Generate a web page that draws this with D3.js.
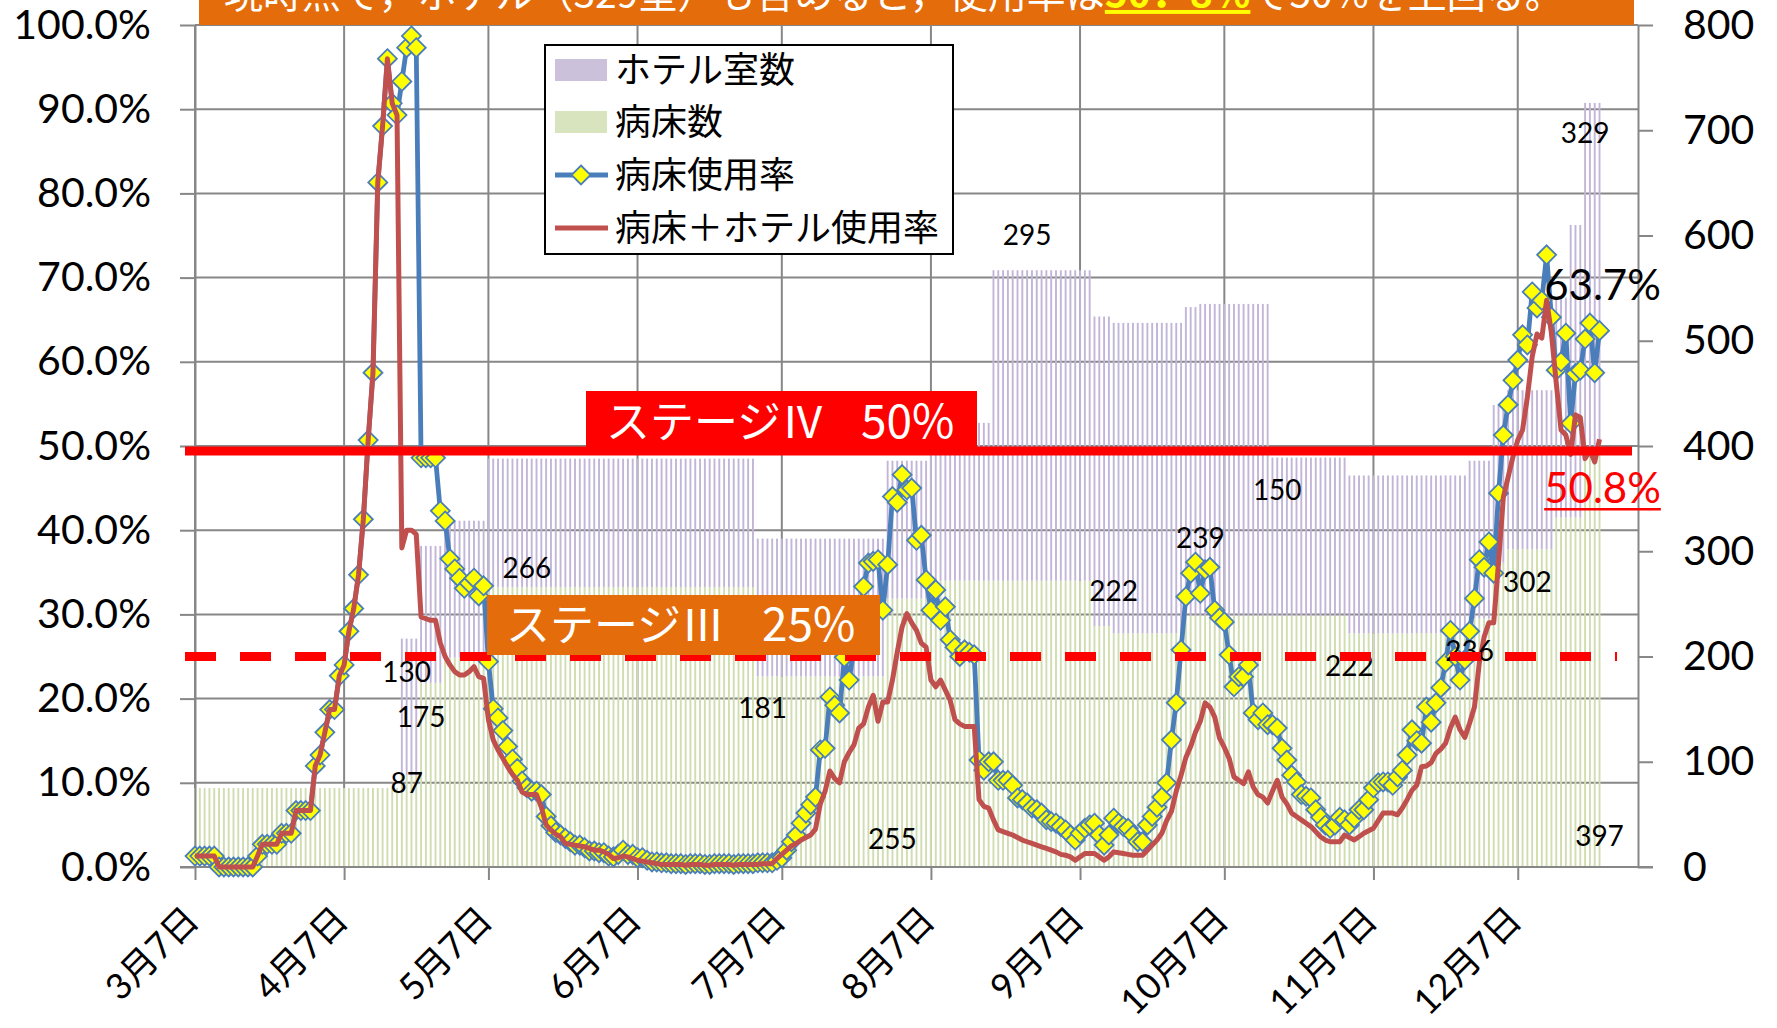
<!DOCTYPE html>
<html>
<head>
<meta charset="utf-8">
<script src="https://cdn.jsdelivr.net/npm/d3@7"></script>
<style>
  body { margin: 0; background: #fff; }
  svg { display: block; }
</style>
</head>
<body>
<svg id="chart" width="1777" height="1028"></svg>
<script>
// ---- data ----
const startDate = "2020-03-07";

// 病床使用率 (%), one value per day from 3/7
const bedRate = [
  1.3,1.3,1.3,1.3,1.3,0,0,0,0,0,
  0,0,0,1.3,2.7,2.7,2.7,2.7,4.0,4.0,
  4.0,6.7,6.7,6.7,6.7,12.0,13.3,16.0,18.7,18.7,
  22.7,24.0,28.0,30.7,34.7,41.3,50.7,58.7,81.3,88.0,
  96.0,90.7,89.3,93.3,97.3,98.7,97.3,48.6,48.6,48.6,
  48.6,42.3,41.1,36.6,35.4,34.3,33.1,33.7,34.3,32.2,
  33.4,24.4,18.8,17.7,16.2,14.3,12.8,11.7,10.2,9.4,
  9.0,9.0,8.6,6.0,4.9,4.1,3.8,3.4,3.0,2.6,
  2.6,2.3,1.9,1.9,1.7,1.7,1.3,1.2,1.5,2.0,
  1.5,1.5,1.1,1.1,0.8,0.6,0.6,0.5,0.5,0.4,
  0.4,0.4,0.3,0.4,0.4,0.4,0.3,0.3,0.4,0.4,
  0.4,0.4,0.3,0.4,0.4,0.4,0.4,0.5,0.5,0.5,
  0.5,0.8,1.1,2.0,3.0,3.8,5.2,6.4,7.4,8.3,
  13.9,14.1,20.2,19.2,18.3,24.9,22.2,26.0,29.5,33.3,
  36.1,36.3,36.5,30.5,35.9,44.0,43.3,46.6,44.8,45.0,
  38.8,39.4,34.1,30.5,32.9,29.3,30.9,27.0,26.1,25.0,
  25.8,25.5,25.2,12.7,11.5,12.5,12.5,10.3,10.3,10.3,
  9.7,8.2,8.0,7.6,7.0,6.8,6.4,5.6,5.4,5.2,
  4.8,4.4,3.8,3.2,4.0,4.6,5.0,5.2,3.8,2.6,
  3.8,5.8,5.2,4.8,4.6,3.8,3.0,3.0,5.0,6.0,
  7.1,8.3,10.0,15.1,19.5,25.8,32.1,34.9,36.2,32.5,
  35.3,35.6,30.5,29.6,29.1,25.2,21.4,22.6,22.6,24.0,
  18.3,17.5,18.3,16.9,16.9,16.5,14.1,12.7,10.9,10.1,
  8.6,8.4,8.2,6.8,5.9,5.0,4.6,5.0,5.9,5.6,
  5.0,5.8,6.8,6.8,8.0,9.4,10.0,10.1,10.1,9.7,
  10.7,11.5,13.3,16.3,15.0,14.7,19.0,17.2,19.5,21.3,
  24.3,28.1,25.0,22.2,24.6,28.0,31.9,36.5,35.6,38.6,
  34.9,44.4,51.3,54.9,57.8,60.2,63.2,62.0,68.3,66.4,
  67.3,72.7,65.3,59.0,60.0,63.4,52.7,58.6,59.0,62.7,
  64.6,58.7,63.7
];

// 病床＋ホテル使用率 (%)
const totalRate = [
  1.3,1.3,1.3,1.3,1.3,0,0,0,0,0,
  0,0,0,1.3,2.7,2.7,2.7,2.7,4.0,4.0,
  4.0,6.7,6.7,6.7,6.7,12.0,13.3,16.0,18.7,18.7,
  22.7,24.0,28.0,30.7,34.7,41.3,50.7,58.7,81.3,88.0,
  96.0,90.7,89.3,37.9,40.0,40.0,39.5,29.7,29.5,29.3,
  29.3,26.6,25.0,24.0,23.2,22.8,22.8,23.2,23.8,22.6,
  22.4,17.5,15.1,13.9,12.9,11.9,11.0,10.3,8.9,8.6,
  8.6,8.6,7.1,5.0,4.4,3.9,3.6,2.8,2.7,2.6,
  2.5,2.4,2.2,2.0,2.0,1.8,1.5,1.0,1.1,1.3,
  1.2,1.0,0.8,0.7,0.6,0.5,0.4,0.3,0.3,0.3,
  0.3,0.3,0.2,0.3,0.3,0.3,0.2,0.2,0.3,0.3,
  0.3,0.3,0.2,0.3,0.3,0.3,0.3,0.3,0.4,0.4,
  0.4,1.0,1.5,2.0,2.5,2.8,3.2,3.5,3.8,4.5,
  7.5,9.0,11.4,10.5,10.0,12.5,13.6,14.5,16.5,17.0,
  19.0,20.4,17.3,19.6,19.6,22.2,25.5,28.5,30.1,29.0,
  28.1,26.6,26.1,22.2,21.4,22.2,21.0,19.8,17.5,17.0,
  16.7,16.7,16.7,8.0,7.2,7.0,5.6,4.4,4.2,4.0,
  3.8,3.5,3.2,3.0,2.8,2.6,2.4,2.2,2.0,1.8,
  1.5,1.4,1.2,0.8,1.2,1.6,1.6,1.6,1.2,0.8,
  1.2,1.8,1.7,1.6,1.5,1.4,1.4,1.4,2.0,2.6,
  3.2,4.0,5.5,6.6,9.0,10.9,13.0,14.3,16.0,17.3,
  19.5,19.0,17.8,15.3,14.2,12.9,10.7,10.3,9.9,11.3,
  9.5,8.6,8.3,7.6,9.0,10.3,8.3,7.5,6.4,6.0,
  5.6,5.2,4.8,4.2,3.6,3.2,3.0,3.0,3.0,3.8,
  3.5,3.2,3.6,4.0,4.3,4.6,5.5,6.4,6.4,6.4,
  6.2,7.0,8.0,9.1,9.7,11.9,12.0,12.4,13.5,14.0,
  14.7,16.5,17.8,16.3,15.4,17.1,19.0,24.2,27.3,29.0,
  29.0,36.1,43.9,46.3,48.7,50.7,51.9,55.8,60.6,63.3,
  62.8,67.3,63.4,57.5,51.9,51.3,49.0,53.7,53.4,48.5,
  49.5,48.1,50.8
];

// capacity: first day of each period, 病床数, ホテル室数
const capStart = ["2020-03-07","2020-04-19","2020-04-23","2020-04-28","2020-05-07",
  "2020-07-02","2020-07-29","2020-08-07","2020-08-20","2020-09-10","2020-09-14",
  "2020-09-29","2020-10-02","2020-10-17","2020-11-02","2020-11-27","2020-12-02",
  "2020-12-05","2020-12-15","2020-12-18","2020-12-21"];
const bedCount   = [75,87,175,199,266,181,255,272,272,229,222,239,239,239,222,236,289,302,332,332,397];
const hotelCount = [0,130,130,130,122,131,131,150,295,294,295,293,296,150,150,150,150,151,209,278,329];

// number labels placed on the capacity bars
const capLabelText  = ["87","130","175","266","181","255","295","222","239","150","222","236","302","329","397"];
const capLabelDate  = ["2020-04-20","2020-04-20","2020-04-23","2020-05-15","2020-07-03","2020-07-30",
  "2020-08-27","2020-09-14","2020-10-02","2020-10-18","2020-11-02","2020-11-27","2020-12-09","2020-12-21","2020-12-24"];
const capLabelValue = [80,185,143,284,151,27,601,262,313,358,191,205,271,697,30];

const monthTicks = ["2020-03-07","2020-04-07","2020-05-07","2020-06-07","2020-07-07",
  "2020-08-07","2020-09-07","2020-10-07","2020-11-07","2020-12-07"];
const pctTicks = [0,10,20,30,40,50,60,70,80,90,100];
const roomTicks = [0,100,200,300,400,500,600,700,800];

// ---- chart ----
const parse = d3.timeParse("%Y-%m-%d");
const t0 = parse(startDate);
const days = bedRate.map((v, i) => d3.timeDay.offset(t0, i));
const capDates = capStart.map(parse);

const plot = { left: 195, right: 1638, top: 25, bottom: 867 };
const x = d3.scaleTime().domain([parse("2020-03-07"), parse("2021-01-01")]).range([plot.left, plot.right]);
const yL = d3.scaleLinear().domain([0, 100]).range([plot.bottom, plot.top]);
const yR = d3.scaleLinear().domain([0, 800]).range([plot.bottom, plot.top]);

const svg = d3.select("#chart");
const gridColor = "#878787";
const latin = "Lato, 'Noto Sans', sans-serif";
const jp = "'Noto Sans CJK JP', 'Noto Sans', sans-serif";

// gridlines
svg.append("g").selectAll("line").data(pctTicks).join("line")
  .attr("x1", plot.left).attr("x2", plot.right)
  .attr("y1", d => yL(d)).attr("y2", d => yL(d))
  .attr("stroke", gridColor).attr("stroke-width", 2);
svg.append("g").selectAll("line").data(monthTicks.map(parse)).join("line")
  .attr("x1", d => x(d)).attr("x2", d => x(d))
  .attr("y1", plot.top).attr("y2", plot.bottom)
  .attr("stroke", gridColor).attr("stroke-width", 2);

// capacity bars (stacked, one thin column a day)
const bars = days.map((dt, i) => {
  const k = d3.bisectRight(capDates, dt) - 1;
  return { dt, bed: bedCount[k], hotel: hotelCount[k] };
});
const barW = 1.9;
const gBars = svg.append("g");
gBars.selectAll(".bed").data(bars).join("rect").attr("class", "bed")
  .attr("x", d => x(d.dt) - barW / 2).attr("width", barW)
  .attr("y", d => yR(d.bed)).attr("height", d => yR(0) - yR(d.bed))
  .attr("fill", "#cfddb0");
gBars.selectAll(".hotel").data(bars.filter(d => d.hotel > 0)).join("rect").attr("class", "hotel")
  .attr("x", d => x(d.dt) - barW / 2).attr("width", barW)
  .attr("y", d => yR(d.bed + d.hotel)).attr("height", d => yR(d.bed) - yR(d.bed + d.hotel))
  .attr("fill", "#c2b5d8");

// axes
const axisStyle = g => {
  g.selectAll(".domain, .tick line").attr("stroke", gridColor).attr("stroke-width", 2);
  g.selectAll(".tick text").attr("font-family", latin).attr("font-size", 41).attr("fill", "#000");
};
svg.append("g").attr("transform", `translate(${plot.left},0)`)
  .call(d3.axisLeft(yL).tickValues(pctTicks).tickSize(15).tickSizeOuter(0).tickPadding(29)
    .tickFormat(d => d.toFixed(1) + "%"))
  .call(axisStyle);
svg.append("g").attr("transform", `translate(${plot.right},0)`)
  .call(d3.axisRight(yR).tickValues(roomTicks).tickSize(15).tickSizeOuter(0).tickPadding(30))
  .call(axisStyle);
const xAxis = svg.append("g").attr("transform", `translate(0,${plot.bottom})`)
  .call(d3.axisBottom(x).tickValues(monthTicks.map(parse)).tickSize(13).tickSizeOuter(0).tickFormat(""))
  .call(axisStyle);
xAxis.select(".domain").attr("d", `M${plot.left - 15},0H${plot.right + 15}`);

svg.append("g").selectAll("text").data(monthTicks.map(parse)).join("text")
  .attr("transform", d => `translate(${x(d) + 6},922) rotate(-45)`)
  .attr("text-anchor", "end")
  .attr("font-family", `Lato, ${jp}`).attr("font-size", 36)
  .text(d => `${d.getMonth() + 1}月${d.getDate()}日`);

// lines
const bedLine = d3.line().x((d, i) => x(days[i])).y(d => yL(d));
svg.append("path").datum(bedRate).attr("d", bedLine)
  .attr("fill", "none").attr("stroke", "#4a7ebb").attr("stroke-width", 4.8).attr("stroke-linejoin", "round");
const diamond = "M0,-9.5L9.5,0L0,9.5L-9.5,0Z";
svg.append("g").selectAll("path").data(bedRate).join("path")
  .attr("transform", (d, i) => `translate(${x(days[i])},${yL(d)})`)
  .attr("d", diamond).attr("fill", "#ffff00").attr("stroke", "#4a7ebb").attr("stroke-width", 1.8);
svg.append("path").datum(totalRate).attr("d", bedLine)
  .attr("fill", "none").attr("stroke", "#c0504d").attr("stroke-width", 5).attr("stroke-linejoin", "round");

// capacity number labels
svg.append("g").selectAll("text").data(capLabelText).join("text")
  .attr("x", (d, i) => x(parse(capLabelDate[i])))
  .attr("y", (d, i) => yR(capLabelValue[i]))
  .attr("dy", "0.36em").attr("text-anchor", "middle")
  .attr("font-family", latin).attr("font-size", 28).attr("fill", "#000")
  .text(d => d);

// stage lines
svg.append("line").attr("x1", 185).attr("x2", 1632)
  .attr("y1", yL(50) + 5).attr("y2", yL(50) + 5)
  .attr("stroke", "#ff0000").attr("stroke-width", 9);
svg.append("line").attr("x1", 185).attr("x2", 1617)
  .attr("y1", yL(25)).attr("y2", yL(25))
  .attr("stroke", "#ff0000").attr("stroke-width", 9).attr("stroke-dasharray", "31 24");

// stage boxes
svg.append("rect").attr("x", 586).attr("y", 391).attr("width", 391).attr("height", 60).attr("fill", "#ff0000");
const s4 = svg.append("text").attr("x", 606).attr("y", 438).attr("font-family", jp).attr("font-size", 44)
  .attr("fill", "#fff");
s4.append("tspan").text("ステージⅣ");
s4.append("tspan").attr("x", 861).attr("font-size", 46).text("50%");
svg.append("rect").attr("x", 487).attr("y", 595).attr("width", 393).attr("height", 60).attr("fill", "#e46c0a");
const s3 = svg.append("text").attr("x", 506).attr("y", 641).attr("font-family", jp).attr("font-size", 44)
  .attr("fill", "#fff");
s3.append("tspan").text("ステージⅢ");
s3.append("tspan").attr("x", 762).attr("font-size", 46).text("25%");

// last-value labels
const last = days.length - 1;
svg.append("text").attr("x", x(days[last]) + 3).attr("y", yL(bedRate[last]) - 46)
  .attr("dy", "0.36em").attr("text-anchor", "middle")
  .attr("font-family", latin).attr("font-size", 42).attr("fill", "#000")
  .text(bedRate[last].toFixed(1) + "%");
const redLbl = svg.append("text").attr("x", x(days[last]) + 3).attr("y", yL(totalRate[last]) + 49)
  .attr("dy", "0.36em").attr("text-anchor", "middle")
  .attr("font-family", latin).attr("font-size", 42).attr("fill", "#ff0000")
  .text(totalRate[last].toFixed(1) + "%");
const rb = redLbl.node().getBBox();
svg.append("line").attr("x1", rb.x).attr("x2", rb.x + rb.width)
  .attr("y1", yL(totalRate[last]) + 70).attr("y2", yL(totalRate[last]) + 70)
  .attr("stroke", "#ff0000").attr("stroke-width", 2.5);

// legend
const lg = svg.append("g");
lg.append("rect").attr("x", 545).attr("y", 45).attr("width", 408).attr("height", 209)
  .attr("fill", "#fff").attr("stroke", "#000").attr("stroke-width", 2);
const legendY = [70, 122, 175, 228];
lg.append("rect").attr("x", 555).attr("y", legendY[0] - 11).attr("width", 52).attr("height", 22).attr("fill", "#ccc1da");
lg.append("rect").attr("x", 555).attr("y", legendY[1] - 11).attr("width", 52).attr("height", 22).attr("fill", "#d7e4bd");
lg.append("line").attr("x1", 555).attr("x2", 608).attr("y1", legendY[2]).attr("y2", legendY[2])
  .attr("stroke", "#4a7ebb").attr("stroke-width", 4.8);
lg.append("path").attr("transform", `translate(581,${legendY[2]})`).attr("d", diamond)
  .attr("fill", "#ffff00").attr("stroke", "#4a7ebb").attr("stroke-width", 1.8);
lg.append("line").attr("x1", 555).attr("x2", 608).attr("y1", legendY[3]).attr("y2", legendY[3])
  .attr("stroke", "#c0504d").attr("stroke-width", 5);
lg.selectAll("text").data(["ホテル室数", "病床数", "病床使用率", "病床＋ホテル使用率"]).join("text")
  .attr("x", 615).attr("y", (d, i) => legendY[i]).attr("dy", "0.36em")
  .attr("font-family", jp).attr("font-size", 36).attr("fill", "#000").text(d => d);

// banner (its text runs off the top edge, as in the original)
svg.append("rect").attr("x", 199).attr("y", -10).attr("width", 1435).attr("height", 35).attr("fill", "#e46c0a");
const banner = svg.append("text").attr("x", 224).attr("y", 8)
  .attr("font-family", jp).attr("font-size", 39).attr("fill", "#fff");
banner.append("tspan").text("現時点で，ホテル（329室）も含めると，使用率は");
banner.append("tspan").attr("fill", "#ffff00").attr("font-weight", "bold")
  .style("text-decoration", "underline").text("50．8%");
banner.append("tspan").text("で50%を上回る。");
</script>
</body>
</html>
